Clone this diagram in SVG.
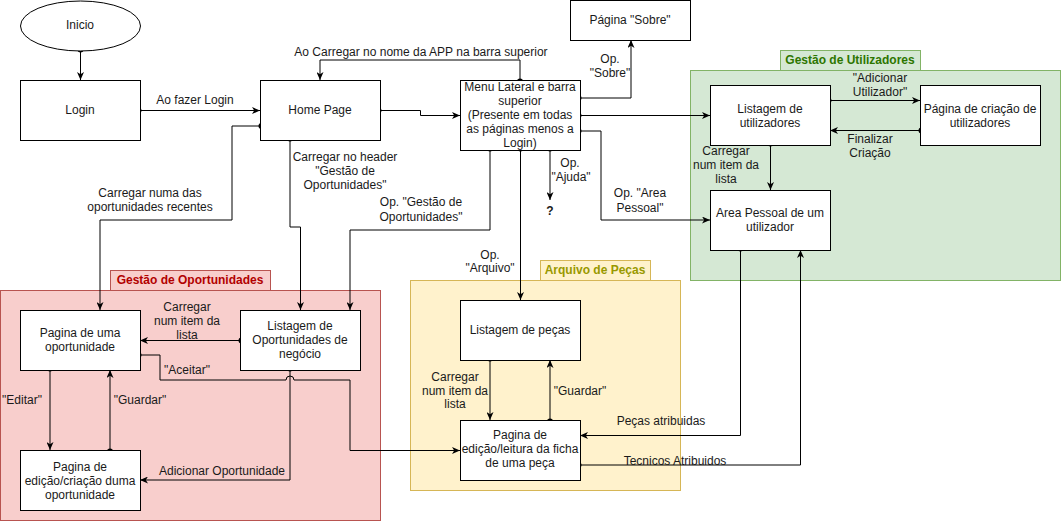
<svg xmlns="http://www.w3.org/2000/svg" width="1061" height="522" viewBox="0 0 1061 522">
<style>
text{font-family:"Liberation Sans",Arial,sans-serif;font-size:12px;fill:#1a1a1a;text-anchor:middle}
.n{fill:#fff;stroke:#000;stroke-width:1}
.c{fill:none;stroke:#000;stroke-width:1}
.e{marker-end:url(#arr)}
.s{marker-start:url(#dot)}
</style>
<defs>
<marker id="arr" markerUnits="userSpaceOnUse" viewBox="0 0 8 7" markerWidth="8" markerHeight="7" refX="8" refY="3.5" orient="auto"><path d="M0,0 L8,3.5 L0,7 L2.2,3.5 z" fill="#000"/></marker>
<marker id="dot" markerUnits="userSpaceOnUse" viewBox="0 0 8 8" markerWidth="8" markerHeight="8" refX="5.5" refY="4" orient="auto" overflow="visible"><circle cx="4" cy="4" r="3" fill="#000"/></marker>
</defs>
<rect width="1061" height="522" fill="#fff"/>

<g id="grp-utilizadores">
<rect x="690.5" y="70.5" width="370" height="210" fill="#d5e8d4" stroke="#82b366"/>
<rect x="780.5" y="50.5" width="140" height="20" fill="#d5e8d4" stroke="#82b366"/>
<text x="850" y="64" style="fill:#2d7600;font-weight:bold">Gestão de Utilizadores</text>
</g>
<g id="grp-oportunidades">
<rect x="0.5" y="290.5" width="380" height="230" fill="#f8cecc" stroke="#b85450"/>
<rect x="110.5" y="270.5" width="160" height="20" fill="#f8cecc" stroke="#b85450"/>
<text x="190" y="284" style="fill:#b20000;font-weight:bold">Gestão de Oportunidades</text>
</g>
<g id="grp-pecas">
<rect x="410.5" y="280.5" width="270" height="210" fill="#fff2cc" stroke="#d6b656"/>
<rect x="540.5" y="260.5" width="110" height="20" fill="#fff2cc" stroke="#d6b656"/>
<text x="595" y="274" style="fill:#999900;font-weight:bold">Arquivo de Peças</text>
</g>

<g id="connectors">
<path class="c e s" d="M80.5,51 L80.5,80"/>
<path class="c e s" d="M140,110.5 L260,110.5"/>
<path class="c e s" d="M380,110.5 L420.5,110.5 L420.5,115.5 L460,115.5"/>
<path class="c e s" d="M520,80 L520,60 L320,60 L320,80"/>
<path class="c e s" d="M580,98 L631,98 L631,40"/>
<path class="c e s" d="M580,115.5 L710,115.5"/>
<path class="c e s" d="M580,131 L601,131 L601,220 L710,220"/>
<path class="c e s" d="M490,150 L490,230 L350,230 L350,310"/>
<path class="c e s" d="M520.5,150 L520.5,300"/>
<path class="c e s" d="M550,150 L550,200"/>
<path class="c e s" d="M260,126 L232,126 L232,220 L100,220 L100,310"/>
<path class="c e s" d="M290,140 L290,227 L300.5,227 L300.5,310"/>
<path class="c e s" d="M830,100.5 L920,100.5"/>
<path class="c e s" d="M920,130.5 L830,130.5"/>
<path class="c e s" d="M770.5,145 L770.5,190"/>
<path class="c e s" d="M740.5,250 L740.5,435.5 L580,435.5"/>
<path class="c e s" d="M580,465 L800.5,465 L800.5,250"/>
<path class="c e s" d="M240,340.5 L140,340.5"/>
<path class="c e s" d="M140,355 L160,355 L160,380 L286,380 A4,4 0 0 1 294,380 L350,380 L350,450.5 L460,450.5"/>
<path class="c e s" d="M50,370 L50,450"/>
<path class="c e s" d="M110,450 L110,370"/>
<path class="c e s" d="M290,370 L290,480 L140,480"/>
<path class="c e s" d="M490,360 L490,420"/>
<path class="c e s" d="M550,420 L550,360"/>
<text x="195" y="104">Ao fazer Login</text>
<text x="421" y="56">Ao Carregar no nome da APP na barra superior</text>
<text x="610" y="63">Op.</text>
<text x="610" y="77">"Sobre"</text>
<text x="570" y="167">Op.</text>
<text x="571" y="181">"Ajuda"</text>
<text x="550" y="215" style="font-weight:bold">?</text>
<text x="640" y="197">Op. "Area</text>
<text x="640" y="212">Pessoal"</text>
<text x="490" y="259">Op.</text>
<text x="490" y="272">"Arquivo"</text>
<text x="345" y="161">Carregar no header</text>
<text x="345" y="175">"Gestão de</text>
<text x="345" y="189">Oportunidades"</text>
<text x="421" y="206">Op. "Gestão de</text>
<text x="421" y="221">Oportunidades"</text>
<text x="150" y="197">Carregar numa das</text>
<text x="150" y="211">oportunidades recentes</text>
<text x="880" y="82">"Adicionar</text>
<text x="880" y="96">Utilizador"</text>
<text x="870" y="143">Finalizar</text>
<text x="870" y="157">Criação</text>
<text x="726" y="155">Carregar</text>
<text x="726" y="169">num item da</text>
<text x="726" y="183">lista</text>
<text x="187" y="311">Carregar</text>
<text x="187" y="325">num item da</text>
<text x="187" y="339">lista</text>
<text x="187" y="374">"Aceitar"</text>
<text x="22" y="404">"Editar"</text>
<text x="140" y="404">"Guardar"</text>
<text x="222" y="475">Adicionar Oportunidade</text>
<text x="455" y="381">Carregar</text>
<text x="455" y="395">num item da</text>
<text x="455" y="408">lista</text>
<text x="580" y="395">"Guardar"</text>
<text x="661" y="425">Peças atribuidas</text>
<text x="675" y="465">Tecnicos Atribuidos</text>
</g>

<g id="inicio"><ellipse class="n" cx="80.5" cy="26" rx="60" ry="25"/><text x="80" y="29">Inicio</text></g>
<g id="login"><rect class="n" x="20.5" y="80.5" width="120" height="60"/><text x="80" y="114">Login</text></g>
<g id="home"><rect class="n" x="260.5" y="80.5" width="120" height="60"/><text x="320" y="114">Home Page</text></g>
<g id="menu"><rect class="n" x="460.5" y="80.5" width="120" height="70"/>
<text x="520" y="91">Menu Lateral e barra</text><text x="520" y="105">superior</text><text x="520" y="119">(Presente em todas</text><text x="520" y="133">as páginas menos a</text><text x="520" y="147">Login)</text></g>
<g id="sobre"><rect class="n" x="570.5" y="0.5" width="120" height="40"/><text x="630" y="24">Página "Sobre"</text></g>
<g id="listagem-util"><rect class="n" x="710.5" y="85.5" width="120" height="60"/><text x="770" y="113">Listagem de</text><text x="770" y="127">utilizadores</text></g>
<g id="criacao-util"><rect class="n" x="920.5" y="85.5" width="120" height="60"/><text x="980" y="113">Página de criação de</text><text x="980" y="127">utilizadores</text></g>
<g id="area-pessoal"><rect class="n" x="710.5" y="190.5" width="120" height="60"/><text x="770" y="217">Area Pessoal de um</text><text x="770" y="231">utilizador</text></g>
<g id="pagina-oport"><rect class="n" x="20.5" y="310.5" width="120" height="60"/><text x="80" y="337">Pagina de uma</text><text x="80" y="351">oportunidade</text></g>
<g id="listagem-oport"><rect class="n" x="240.5" y="310.5" width="120" height="60"/><text x="300" y="330">Listagem de</text><text x="300" y="344">Oportunidades de</text><text x="300" y="358">negócio</text></g>
<g id="edicao-oport"><rect class="n" x="20.5" y="450.5" width="120" height="60"/><text x="80" y="471">Pagina de</text><text x="80" y="485">edição/criação duma</text><text x="80" y="499">oportunidade</text></g>
<g id="listagem-pecas"><rect class="n" x="460.5" y="300.5" width="120" height="60"/><text x="520" y="334">Listagem de peças</text></g>
<g id="ficha-peca"><rect class="n" x="460.5" y="420.5" width="120" height="60"/><text x="520" y="439">Pagina de</text><text x="520" y="453">edição/leitura da ficha</text><text x="520" y="467">de uma peça</text></g>
</svg>
